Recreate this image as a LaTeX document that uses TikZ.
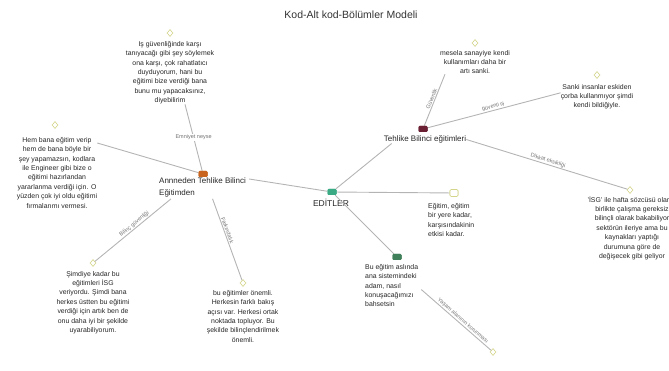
\documentclass[tikz,border=0pt]{standalone}
\usepackage{fontspec}
\setmainfont{Liberation Sans}
\usetikzlibrary{shapes.geometric}
\definecolor{linec}{HTML}{B4B4B4}
\definecolor{leafc}{HTML}{D4D48A}
\definecolor{hubLc}{HTML}{C8641E}
\definecolor{hubRc}{HTML}{6B1F33}
\definecolor{editc}{HTML}{3AAA84}
\definecolor{botc}{HTML}{3F7F5A}
\begin{document}
\begin{tikzpicture}[x=1pt,y=-1pt,
  txt/.style={font=\fontsize{6.9}{9.4}\selectfont, align=center, inner sep=0pt, text=black!85},
  txtl/.style={txt, align=left},
  hublab/.style={font=\fontsize{8}{12}\selectfont, inner sep=0pt, text=black!85},
  elab/.style={font=\fontsize{5.5}{6}\selectfont, text=black!55, inner sep=0.8pt, sloped},
  leaf/.style={diamond, aspect=0.75, draw=leafc, line width=0.6pt, fill=white, minimum width=6pt, minimum height=7pt, inner sep=0pt},
  conn/.style={draw=linec, line width=0.9pt},
  icon/.style={rounded corners=1.2pt, minimum width=9pt, minimum height=6pt, inner sep=0pt},
]
\useasboundingbox (0,0) rectangle (669,371);
\clip (0,0) rectangle (669,371);

% title
\node[font=\fontsize{10.5}{12}\selectfont, text=black!80] (title) at (351,15) {Kod-Alt kod-Bölümler Modeli};

% hubs
\node[icon, fill=hubLc] (hubL) at (203,174) {};
\node[hublab, anchor=north west, align=left] (hubLl) at (159,178) {Annneden Tehlike Bilinci\\Eğitimden};
\node[icon, fill=editc] (edit) at (332,192) {};
\node[hublab, font=\fontsize{8.5}{12}\selectfont] (editl) at (331,203) {EDİTLER};
\node[icon, fill=hubRc] (hubR) at (423,129) {};
\node[hublab] (hubRl) at (425,139.5) {Tehlike Bilinci eğitimleri};
\node[icon, fill=botc] (bot) at (397,257) {};
\node[txtl, anchor=north west] (bott) at (365,264) {Bu eğitim aslında\\ana sistemindeki\\adam, nasıl\\konuşacağımızı\\bahsetsin};
\node[icon, draw=leafc, fill=white, line width=0.6pt, minimum width=8pt, minimum height=7pt] (egt) at (454,193) {};
\node[txtl, anchor=north west] (egtt) at (428,203) {Eğitim, eğitim\\bir yere kadar,\\karşısındakinin\\etkisi kadar.};

% leaves
\node[leaf] (TLd) at (170,33) {};
\node[txt, anchor=north] (TLt) at (170,41) {Iş güvenliğinde karşı\\tanıyacağı gibi şey söylemek\\ona karşı, çok rahatlatıcı\\duyduyorum, hani bu\\eğitimi bize verdiği bana\\bunu mu yapacaksınız,\\diyebilirim};
\node[leaf] (Ld) at (55,125) {};
\node[txt, anchor=north] (Lt) at (57,137) {Hem bana eğitim verip\\hem de bana böyle bir\\şey yapamazsın, kodlara\\ile Engineer gibi bize o\\eğitimi hazırlandan\\yararlanma verdiği için. O\\yüzden çok iyi oldu eğitimi\\fırmalarımı vermesi.};
\node[leaf] (BLd) at (93,263) {};
\node[txt, anchor=north] (BLt) at (93,271) {Şimdiye kadar bu\\eğitimleri İSG\\veriyordu. Şimdi bana\\herkes üstten bu eğitimi\\verdiği için artık ben de\\onu daha iyi bir şekilde\\uyarabiliyorum.};
\node[leaf] (BMd) at (243,283) {};
\node[txt, anchor=north] (BMt) at (243,290) {bu eğitimler önemli.\\Herkesin farklı bakış\\açısı var. Herkesi ortak\\noktada topluyor. Bu\\şekilde bilinçlendirilmek\\önemli.};
\node[leaf] (TRd) at (475,43) {};
\node[txt, anchor=north] (TRt) at (475,50) {mesela sanayiye kendi\\kullanımları daha bir\\artı sanki.};
\node[leaf] (Rd) at (597,75) {};
\node[txt, anchor=north] (Rt) at (597,84) {Sanki insanlar eskiden\\çorba kullanmıyor şimdi\\kendi bildiğiyle.};
\node[leaf] (FRd) at (630,190) {};
\node[txt, anchor=north] (FRt) at (632,196) {'İSG' ile hafta sözcüsü olarak\\birlikte çalışma gereksiz\\bilinçli olarak bakabiliyor\\sektörün ileriye ama bu\\kaynakları yaptığı\\durumuna göre de\\değişecek gibi geliyor};
\node[leaf] (BRd) at (493,352) {};

% connectors
\draw[conn] (hubL) -- ([xshift=15pt]TLt.south)
  node[pos=0.5, font=\fontsize{5.5}{6}\selectfont, text=black!55, fill=white, inner sep=0.8pt] {Emniyet neyse};
\draw[conn] (hubL) -- ([yshift=-6pt]Lt.north east);
\draw[conn] ([xshift=12pt,yshift=-1pt]hubLl.south west) -- (BLd) node[elab, pos=0.45, above] {Bilinç güvenliği};
\draw[conn] ([xshift=10pt,yshift=-1pt]hubLl.south) -- (BMd) node[elab, pos=0.4, above] {Farkındalık};
\draw[conn] (edit) -- ([xshift=3pt,yshift=-1pt]hubLl.north east);
\draw[conn] (edit) -- ([xshift=8pt]hubRl.south west);
\draw[conn] (edit) -- (egt);
\draw[conn] (edit) -- (bot);
\draw[conn] (hubR) -- ([xshift=-30pt]TRt.south) node[elab, pos=0.5, above] {Güvenlik};
\draw[conn] (hubR) -- ([yshift=4pt]Rt.west) node[elab, pos=0.5, above] {güvenli iş};
\draw[conn] (hubRl.east) -- (FRd) node[elab, pos=0.5, above] {Dikkat eksikliği};
\draw[conn] ([xshift=3pt,yshift=-4pt]bott.east) -- (BRd) node[elab, pos=0.56, above] {Yaşam alanının korunması};

% redraw icons on top
\node[icon, fill=hubLc] at (hubL) {};
\node[icon, fill=editc] at (edit) {};
\node[icon, fill=hubRc] at (hubR) {};
\node[icon, fill=botc] at (bot) {};
\node[icon, draw=leafc, fill=white, line width=0.6pt, minimum width=8pt, minimum height=7pt] at (egt) {};
\end{tikzpicture}
\end{document}
